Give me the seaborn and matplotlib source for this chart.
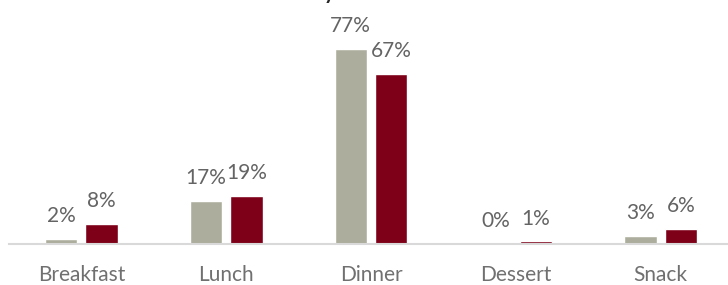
import matplotlib
matplotlib.use("Agg")
import matplotlib.pyplot as plt
import seaborn as sns
import pandas as pd

# Data
meals = ["Breakfast", "Lunch", "Dinner", "Dessert", "Snack"]
series = ["Series A", "Series B"]
values_a = [2, 17, 77, 0, 3]
values_b = [8, 19, 67, 1, 6]

df = pd.DataFrame({
    "Meal": meals * 2,
    "Series": [series[0]] * len(meals) + [series[1]] * len(meals),
    "Share": values_a + values_b,
})

sns.set_style("white")
plt.rcParams["font.family"] = ["Lato", "DejaVu Sans"]

fig = plt.figure(figsize=(7.28, 2.85), dpi=100)
ax = fig.add_axes([9 / 728, 41 / 285, 724 / 728, 203 / 285])

sns.barplot(
    data=df, x="Meal", y="Share", hue="Series",
    palette=["#ADAD9D", "#7E0018"], saturation=1, width=0.56, gap=0.2,
    legend=False, ax=ax,
)
ax.set_xlim(-0.5, 4.5)
ax.set_ylim(0, 80)

# Value labels above bars
for bars in ax.containers:
    for bar in bars:
        h = bar.get_height()
        ax.annotate(f"{h:.0f}%", (bar.get_x() + bar.get_width() / 2, h),
                    xytext=(0, 12.2), textcoords="offset points",
                    ha="center", va="baseline", fontsize=15, color="#646464",
                    annotation_clip=False)

ax.set_xlabel("")
ax.set_ylabel("")
ax.set_yticks([])
ax.tick_params(axis="x", length=0, pad=15, labelsize=15, labelcolor="#707070")
for side in ["top", "left", "right"]:
    ax.spines[side].set_visible(False)
ax.spines["bottom"].set_color("#D9D9D9")
ax.spines["bottom"].set_linewidth(1.5)

# Title is cut off at the top, only the descender shows
fig.text(329 / 728, 1 + 1 / 285, "y", ha="center", va="baseline",
         fontsize=15, fontweight="bold", color="#262626")

fig.savefig("out.png", dpi=100)
